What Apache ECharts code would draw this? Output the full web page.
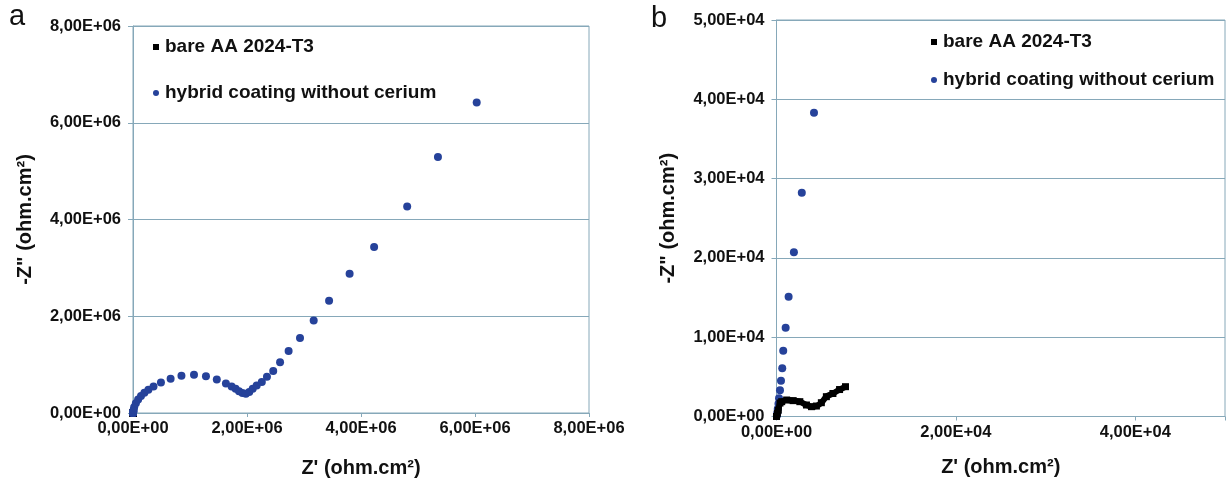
<!DOCTYPE html>
<html>
<head>
<meta charset="utf-8">
<script src="https://cdn.jsdelivr.net/npm/echarts@6/dist/echarts.min.js"></script>
<style>
  html, body { margin: 0; padding: 0; background: #fff; }
  #chart { width: 1228px; height: 486px; }
</style>
</head>
<body>
<div id="chart"></div>
<script>
// Z' / -Z'' pairs (ohm.cm²)
const bareAA = [
  [0, 0], [100, 400], [200, 800], [390, 1700], [580, 1870], [1130, 2080],
  [1860, 2000], [2600, 1870], [3340, 1450], [3900, 1240], [4450, 1320],
  [5000, 1740], [5560, 2500], [6290, 2900], [7030, 3400], [7690, 3760]
];
const hybridNoCe = [
  [50, 130], [90, 440], [140, 950], [220, 1600], [280, 2300], [390, 3300],
  [500, 4500], [640, 6100], [750, 8300], [1020, 11200], [1350, 15100],
  [1940, 20700], [2820, 28200], [4180, 38300],
  [12000, 60000], [20000, 120000], [50000, 200000], [90000, 280000],
  [140000, 350000], [200000, 420000], [270000, 480000], [360000, 550000],
  [490000, 630000], [660000, 710000], [850000, 770000], [1070000, 790000],
  [1280000, 760000], [1470000, 690000], [1630000, 610000], [1730000, 550000],
  [1800000, 500000], [1860000, 450000], [1920000, 415000], [1980000, 400000],
  [2040000, 435000], [2100000, 500000], [2170000, 570000], [2260000, 640000],
  [2350000, 750000], [2460000, 870000], [2580000, 1050000], [2730000, 1280000],
  [2930000, 1550000], [3170000, 1910000], [3440000, 2320000], [3800000, 2880000],
  [4230000, 3430000], [4810000, 4270000], [5350000, 5290000], [6030000, 6420000]
];
const seriesNames = ['bare AA 2024-T3', 'hybrid coating without cerium'];
const xTitle = "Z' (ohm.cm²)";
const yTitle = '-Z" (ohm.cm²)';

const FONT = '"Liberation Sans", Arial, sans-serif';
const LINE = '#86a8b9';
const BLUE = '#26429a';

function sci(v) {
  if (v === 0) return '0,00E+00';
  const e = Math.floor(Math.log10(Math.abs(v)));
  const m = (v / Math.pow(10, e)).toFixed(2).replace('.', ',');
  return m + 'E+' + String(e).padStart(2, '0');
}

function onStep(v, step) {
  return Math.abs(v / step - Math.round(v / step)) < 1e-9;
}

function valueAxis(idx, max, interval, extra) {
  return Object.assign({
    type: 'value',
    gridIndex: idx,
    min: 0,
    max: max,
    interval: interval,
    nameLocation: 'middle',
    nameTextStyle: { fontFamily: FONT, fontSize: 20, fontWeight: 'bold', color: '#111' },
    axisLine: { show: true, lineStyle: { color: LINE, width: 1 } },
    axisTick: { show: true, length: 5, lineStyle: { color: LINE } },
    axisLabel: {
      fontFamily: FONT, fontSize: 16.5, fontWeight: 'bold', color: '#111', margin: 12,
      formatter: (v) => (onStep(v, interval) ? sci(v) : '')
    },
    splitLine: { show: true, lineStyle: { color: LINE } }
  }, extra);
}

function xLabel(interval) {
  return {
    fontFamily: FONT, fontSize: 16.5, fontWeight: 'bold', color: '#111', margin: 7,
    formatter: (v) => (onStep(v, interval) ? sci(v) : '')
  };
}

function legendFor(left, top, gap) {
  return {
    orient: 'vertical', left: left, top: top, itemGap: gap, itemWidth: 6, itemHeight: 6,
    textStyle: { fontFamily: FONT, fontSize: 19, fontWeight: 'bold', color: '#111', lineHeight: 20, padding: [0, 0, 0, 1] },
    data: [{ name: seriesNames[0], icon: 'rect', itemStyle: { color: '#000' } },
           { name: seriesNames[1], icon: 'circle', itemStyle: { color: BLUE } }]
  };
}

const chart = echarts.init(document.getElementById('chart'));

chart.setOption({
  animation: false,
  backgroundColor: '#fff',
  grid: [
    { left: 133, top: 26, width: 456, height: 387, show: true, borderColor: LINE, borderWidth: 1 },
    { left: 776.5, top: 20, width: 448.5, height: 396.5, show: true, borderColor: LINE, borderWidth: 1 }
  ],
  xAxis: [
    valueAxis(0, 8e6, 2e6, { name: xTitle, nameGap: 45, splitLine: { show: false },
      axisLabel: xLabel(2e6), axisTick: { show: true, length: 4, lineStyle: { color: LINE } } }),
    valueAxis(1, 5e4, 2e4, { name: xTitle, nameGap: 41, splitLine: { show: false },
      axisLabel: xLabel(2e4), axisTick: { show: true, length: 4, lineStyle: { color: LINE } } })
  ],
  yAxis: [
    valueAxis(0, 8e6, 2e6, { name: yTitle, nameGap: 98 }),
    valueAxis(1, 5e4, 1e4, { name: yTitle, nameGap: 98 })
  ],
  legend: [legendFor(148, 32, 26), legendFor(926, 27, 18)],
  graphic: [
    { type: 'text', left: 9, top: 2, style: { text: 'a', font: '29px ' + FONT, fill: '#111' } },
    { type: 'text', left: 651, top: 4, style: { text: 'b', font: '29px ' + FONT, fill: '#111' } }
  ],
  series: [
    {
      name: seriesNames[0], type: 'line', xAxisIndex: 0, yAxisIndex: 0, z: 2,
      data: bareAA, symbol: 'rect', symbolSize: 7, smooth: 0.3,
      lineStyle: { color: '#000', width: 6 }, itemStyle: { color: '#000' }
    },
    {
      name: seriesNames[1], type: 'scatter', xAxisIndex: 0, yAxisIndex: 0, z: 3,
      data: hybridNoCe, symbol: 'circle', symbolSize: 8, itemStyle: { color: BLUE, opacity: 1 }
    },
    {
      name: seriesNames[1], type: 'scatter', xAxisIndex: 1, yAxisIndex: 1, z: 2, clip: true,
      data: hybridNoCe, symbol: 'circle', symbolSize: 8, itemStyle: { color: BLUE, opacity: 1 }
    },
    {
      name: seriesNames[0], type: 'line', xAxisIndex: 1, yAxisIndex: 1, z: 3, clip: true,
      data: bareAA, symbol: 'rect', symbolSize: 7, smooth: 0.3,
      lineStyle: { color: '#000', width: 6 }, itemStyle: { color: '#000' }
    }
  ]
});

window.addEventListener('resize', () => {
  chart.resize();
});
</script>
</body>
</html>
